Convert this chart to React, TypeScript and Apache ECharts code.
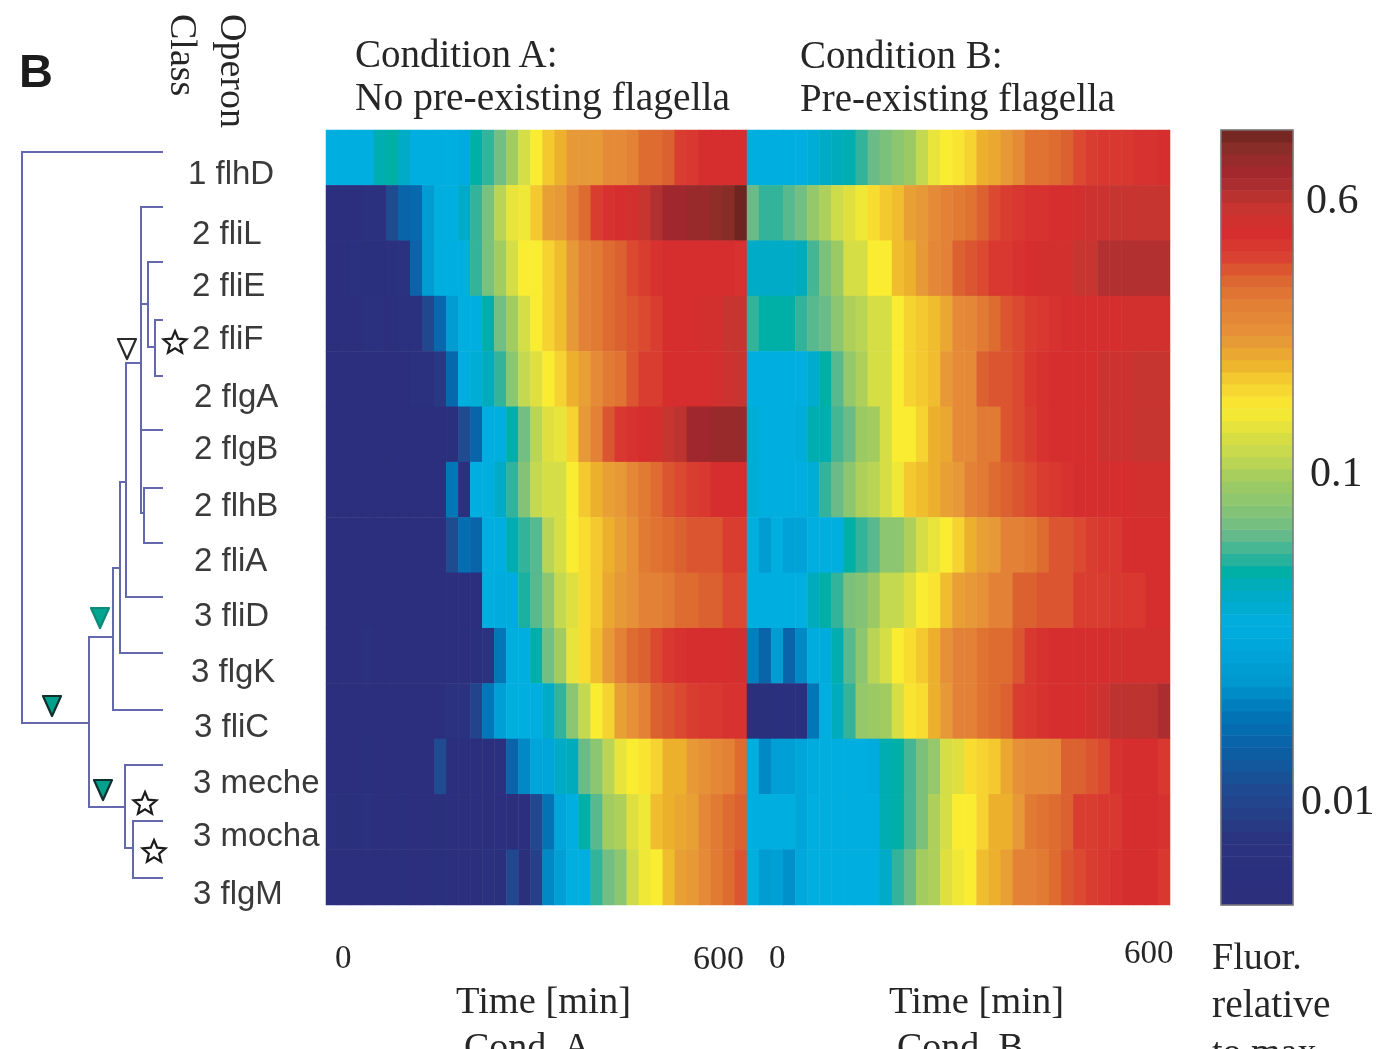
import React, { useEffect, useRef } from "react";
import * as echarts from "echarts";

const genes = ["flhD", "fliL", "fliE", "fliF", "flgA", "flgB", "flhB", "fliA", "fliD", "flgK", "fliC", "meche", "mocha", "flgM"];
const geneClass = [1, 2, 2, 2, 2, 2, 2, 2, 3, 3, 3, 3, 3, 3];
const timeColumns = ["0","18","35","53","71","88","106","124","141","159","176","194","212","229","247","265","282","300","318","335","353","371","388","406","424","441","459","476","494","512","529","547","565","582","600"];

// Values: relative position on the fluorescence colour scale (0 bottom, 100 top)
const condA_flhD = [36,36,36,36,42,43,40,36,36,36,36,35,43,45,49,55,60,64,68,70,73,73,73,75,75,77,80,80,81,84,85,87,87,87,87];
const condA_fliL = [2,2,2,5,5,15,21,22,30,36,36,40,45,50,57,62,63,68,72,73,77,80,84,86,87,88,90,92,95,95,96,96,97,98,100];
const condA_fliE = [2,2,5,4,4,5,8,21,30,36,36,36,45,50,55,60,64,64,67,69,73,77,78,80,81,83,84,86,87,87,87,87,87,87,86];
const condA_fliF = [2,2,2,5,5,2,5,6,14,22,30,36,36,43,49,55,60,64,67,69,73,77,78,80,81,82,83,84,87,87,87,88,88,90,90];
const condA_flgA = [2,2,2,2,2,2,2,5,5,10,22,36,38,41,45,52,58,61,64,67,70,72,75,78,79,82,84,84,87,87,87,87,88,89,90];
const condA_flgB = [2,2,2,2,2,2,2,2,2,2,4,15,21,36,36,43,49,57,61,62,67,73,77,82,85,86,87,88,90,91,95,95,96,96,96];
const condA_flhB = [2,2,2,2,2,2,2,2,2,2,25,5,36,36,40,45,51,58,60,60,64,68,70,72,73,76,78,80,82,83,84,85,87,87,87];
const condA_fliA = [2,2,2,2,2,2,2,2,2,2,15,23,21,36,36,42,45,47,57,60,64,66,68,70,72,74,78,79,80,81,82,82,82,84,84];
const condA_fliD = [2,2,2,2,2,2,2,2,2,2,2,2,2,36,35,35,44,47,52,58,61,66,68,71,73,74,77,77,78,80,80,81,81,83,83];
const condA_flgK = [2,2,2,5,2,2,2,2,2,2,2,2,4,8,25,36,36,43,49,55,62,66,69,73,77,80,81,83,85,86,87,87,87,87,88];
const condA_fliC = [2,2,2,2,2,2,2,2,2,2,8,8,13,25,31,36,36,36,40,45,52,58,64,67,72,74,77,81,82,83,84,85,85,86,86];
const condA_meche = [2,2,2,4,2,2,2,2,2,15,2,2,2,2,6,21,27,33,33,40,41,48,52,57,62,64,65,67,70,70,73,74,76,77,80];
const condA_mocha = [5,3,4,6,2,2,4,2,2,3,2,2,2,2,2,2,2,14,24,33,36,43,47,55,56,61,63,69,70,71,72,76,78,80,81];
const condA_flgM = [2,2,2,2,2,2,4,2,2,4,2,2,2,5,3,14,3,12,27,31,36,36,45,49,52,59,63,64,69,72,73,75,78,80,82];

const condB_flhD = [36,36,36,36,36,38,40,41,42,45,48,50,52,54,58,62,64,65,67,70,71,73,75,79,79,80,81,83,84,85,85,85,86,86,87];
const condB_fliL = [48,45,45,47,49,53,56,59,61,63,66,68,69,72,73,75,77,78,79,81,83,84,85,86,86,87,87,88,89,89,90,90,90,90,90];
const condB_fliE = [40,40,40,40,41,46,50,54,60,60,64,64,69,70,73,76,77,81,82,83,85,85,86,87,88,88,88,90,90,92,92,92,92,92,92];
const condB_fliF = [45,43,43,43,45,47,48,52,56,57,60,60,64,67,68,69,71,75,76,78,80,82,83,84,85,86,87,87,87,87,87,88,88,88,88];
const condB_flgA = [36,36,36,36,36,39,43,47,53,56,60,60,64,67,68,69,73,75,75,81,82,82,83,85,86,87,87,87,87,89,89,89,90,90,90];
const condB_flgB = [38,36,36,36,37,42,42,46,48,54,55,60,64,64,67,70,71,75,75,78,78,82,83,84,86,87,87,87,87,89,89,89,90,90,90];
const condB_flhB = [38,36,36,36,36,38,45,48,52,56,57,60,63,68,69,70,72,73,77,78,80,81,82,83,84,85,86,87,87,87,87,87,88,88,88];
const condB_fliA = [36,30,36,32,32,36,36,36,43,45,47,52,52,56,60,62,64,67,70,72,73,77,77,78,80,82,82,83,84,85,85,87,87,87,87];
const condB_fliD = [36,36,36,36,36,41,43,45,50,51,54,58,58,61,64,65,69,72,73,74,77,77,81,81,82,82,82,84,84,84,85,85,85,87,87];
const condB_flgK = [26,21,30,21,27,35,35,42,47,52,57,60,64,66,68,70,74,77,77,79,80,80,82,85,86,87,87,87,87,87,88,88,88,88,88];
const condB_fliC = [3,3,4,4,4,25,36,41,45,53,54,55,60,65,66,70,73,77,77,79,80,81,84,85,86,87,87,87,88,89,91,91,91,91,93];
const condB_meche = [36,27,31,31,33,35,36,36,36,36,35,42,43,46,50,53,60,61,66,67,68,71,74,75,75,76,81,81,82,83,86,87,87,87,85];
const condB_mocha = [36,36,36,36,33,36,36,36,36,36,36,42,43,46,50,56,60,64,64,67,70,70,73,78,79,80,81,84,84,85,85,87,87,87,86];
const condB_flgM = [36,30,31,28,34,36,36,36,36,36,36,40,45,48,55,56,61,63,64,69,70,72,77,77,78,80,82,83,84,85,86,87,87,87,85];

const condA = [condA_flhD, condA_fliL, condA_fliE, condA_fliF, condA_flgA, condA_flgB, condA_flhB, condA_fliA, condA_fliD, condA_flgK, condA_fliC, condA_meche, condA_mocha, condA_flgM];
const condB = [condB_flhD, condB_fliL, condB_fliE, condB_fliF, condB_flgA, condB_flgB, condB_flhB, condB_fliA, condB_fliD, condB_flgK, condB_fliC, condB_meche, condB_mocha, condB_flgM];

// Colour scale
const rampPositions = [0, 8, 15, 20, 25, 29, 36, 40, 43, 45, 48, 52, 55, 58, 61, 64, 66, 68, 70, 72, 74, 77, 80, 82, 84, 87, 90, 92, 95, 97.5, 100];
const rampColors = ["#2b2e7c","#2b327f","#1f4b91","#0b5fa5","#0078b8","#0099d0","#00aee0","#00abc8","#00afa5","#33b39a","#6abb88","#8cc670","#a3cc60","#c5d950","#dfe040","#f9ec31","#f8dc30","#f4c930","#ecb02c","#e8a035","#e69038","#e38236","#de6c30","#da5530","#d93d30","#d62d2f","#c73530","#b23030","#a0272d","#8b2f28","#6e2420"];
const rampSteps = 64;

const barTickPositions = [5.9, 15.6, 25.3, 35.1, 44.9, 54.7, 64.6, 74.3, 83.9, 93.4];
const barLabels = ["0.6", "0.1", "0.01"];

const hex = (c: string) => [1, 3, 5].map((i) => parseInt(c.slice(i, i + 2), 16));
function rampAt(v: number) {
  let i = 0;
  while (i < rampPositions.length - 2 && v > rampPositions[i + 1]) i++;
  const t = Math.min(1, Math.max(0, (v - rampPositions[i]) / (rampPositions[i + 1] - rampPositions[i])));
  const a = hex(rampColors[i]);
  const b = hex(rampColors[i + 1]);
  return `rgb(${a.map((x, k) => Math.round(x + (b[k] - x) * t)).join(",")})`;
}
const colorTable: string[] = [];
for (let i = 0; i <= 100; i++) colorTable.push(rampAt(i));

const barLevels: number[] = [];
for (let i = 0; i < rampSteps; i++) barLevels.push(((i + 0.5) / rampSteps) * 100);

const SERIF = "'Liberation Serif', serif";
const SANS = "'Liberation Sans', sans-serif";
const INK = "#262626";

const serifTexts: [string, number, number, number][] = [
  ["Condition A:", 355, 34, 39],
  ["No pre-existing flagella", 355, 77, 39.5],
  ["Condition B:", 800, 35, 39],
  ["Pre-existing flagella", 800, 78, 39],
  ["0", 335, 940, 33],
  ["600", 693, 940, 34],
  ["0", 769, 940, 33],
  ["600", 1124, 935, 33],
  ["Time [min]", 456, 980, 38.5],
  ["Cond. A", 464, 1027, 38],
  ["Time [min]", 889, 980, 38.5],
  ["Cond. B", 897, 1027, 38],
  ["Fluor.", 1212, 937, 38],
  ["relative", 1212, 984, 39.5],
  ["to max", 1212, 1032, 38],
];
const barLabelSpots: [number, number][] = [[1306, 178], [1310, 451], [1301, 779]];
const geneX = [188, 192, 192, 192, 194, 194, 194, 194, 194, 191, 194, 193, 193, 193];
const geneY = [156, 216, 268, 321, 379, 431, 488, 543, 598, 654, 709, 765, 818, 876];

const dendrogram: number[][][] = [
  [[163, 152], [22, 152], [22, 723], [89, 723]],
  [[113, 637], [89, 637], [89, 807], [125, 807]],
  [[120, 568], [113, 568], [113, 710], [163, 710]],
  [[126, 482], [120, 482], [120, 653], [163, 653]],
  [[141, 363], [126, 363], [126, 597], [163, 597]],
  [[163, 207], [141, 207], [141, 513], [144, 513]],
  [[141, 304], [148, 304]],
  [[163, 262], [148, 262], [148, 347], [155, 347]],
  [[163, 320], [155, 320], [155, 376], [163, 376]],
  [[141, 430], [163, 430]],
  [[163, 488], [144, 488], [144, 543], [163, 543]],
  [[163, 765], [125, 765], [125, 848], [133, 848]],
  [[163, 821], [133, 821], [133, 878], [163, 878]],
];
const triangles: [number, number, string, string][] = [
  [127, 349, "#ffffff", "#2a2a2a"],
  [100, 618, "#00a58f", "#0f8a78"],
  [52, 706, "#00a08c", "#10302e"],
  [103, 790, "#00a08c", "#10302e"],
];
const stars: [number, number][] = [[175, 343], [145, 804], [154, 852]];

function starPoints(cx: number, cy: number, R: number) {
  const pts: number[][] = [];
  for (let i = 0; i < 10; i++) {
    const r = i % 2 === 0 ? R : R * 0.45;
    const a = -Math.PI / 2 + (i * Math.PI) / 5;
    pts.push([cx + r * Math.cos(a), cy + r * Math.sin(a)]);
  }
  return pts;
}

function cells(rows: number[][]) {
  const out: number[][] = [];
  rows.forEach((row, y) => row.forEach((v, x) => out.push([x, y, v])));
  return out;
}

function buildGraphics() {
  const els: any[] = [];
  const text = (t: string, x: number, y: number, size: number, font: string, extra: any = {}) =>
    els.push({
      type: "text",
      x,
      y,
      z: 10,
      ...extra,
      style: { text: t, fontFamily: font, fontSize: size, fill: INK, textBaseline: "middle", textAlign: "left", ...(extra.style || {}) },
    });
  text("B", 19, 47, 47, SANS, { style: { fontWeight: "bold", fill: "#1c1c1c" } });
  text("Class", 203, 14, 38, SERIF, { rotation: -Math.PI / 2 });
  text("Operon", 253, 14, 38, SERIF, { rotation: -Math.PI / 2 });
  serifTexts.forEach(([t, x, y, s]) => text(t, x, y, s, SERIF));
  barLabels.forEach((t, i) => text(t, barLabelSpots[i][0], barLabelSpots[i][1], 42, SERIF));
  genes.forEach((g, i) => text(`${geneClass[i]} ${g}`, geneX[i], geneY[i], 33, SANS, { style: { fill: "#3a3a3a" } }));
  dendrogram.forEach((points) =>
    els.push({
      type: "polyline",
      z: 5,
      shape: { points },
      style: { stroke: "#6468ad", lineWidth: 2, fill: "none", lineJoin: "miter" },
    }),
  );
  triangles.forEach(([cx, cy, fill, stroke]) =>
    els.push({
      type: "polygon",
      z: 6,
      shape: { points: [[cx - 9, cy - 10], [cx + 9, cy - 10], [cx, cy + 10]] },
      style: { fill, stroke, lineWidth: 2.2, lineJoin: "round" },
    }),
  );
  stars.forEach(([cx, cy]) =>
    els.push({
      type: "polygon",
      z: 6,
      shape: { points: starPoints(cx, cy, 12) },
      style: { fill: "#ffffff", stroke: "#1c1c1c", lineWidth: 2.2 },
    }),
  );
  els.push({
    type: "rect",
    z: 8,
    shape: { x: 1221, y: 130, width: 72, height: 775 },
    style: { fill: "none", stroke: "#7a7a7a", lineWidth: 1.5 },
  });
  return els;
}

const hiddenCat = (gridIndex: number, data: any[], extra: any = {}) => ({
  type: "category",
  gridIndex,
  data,
  axisLine: { show: false },
  axisTick: { show: false },
  axisLabel: { show: false },
  splitLine: { show: false },
  ...extra,
});

export default function App() {
  const ref = useRef<HTMLDivElement>(null);
  useEffect(() => {
    const chart = echarts.init(ref.current!, null, { renderer: "svg" });
    const heat = (xAxisIndex: number, yAxisIndex: number, data: number[][], name: string) => ({
      type: "heatmap",
      name,
      xAxisIndex,
      yAxisIndex,
      data,
      progressive: 0,
      itemStyle: { borderWidth: 0 },
      emphasis: { disabled: true },
    });
    const tickAxis = (position: string) => ({
      type: "value",
      gridIndex: 2,
      position,
      min: 0,
      max: 100,
      axisLine: { show: false },
      axisLabel: { show: false },
      splitLine: { show: false },
      axisTick: {
        show: true,
        inside: true,
        length: 8,
        customValues: barTickPositions,
        lineStyle: { color: "#222", width: 1.5 },
      },
    });
    chart.setOption({
      animation: false,
      backgroundColor: "#ffffff",
      tooltip: { show: false },
      grid: [
        { left: 326, top: 130, width: 421, height: 775 },
        { left: 747, top: 130, width: 423, height: 775 },
        { left: 1221, top: 130, width: 72, height: 775 },
      ],
      xAxis: [hiddenCat(0, timeColumns), hiddenCat(1, timeColumns), hiddenCat(2, ["Fluor."])],
      yAxis: [
        hiddenCat(0, genes, { inverse: true }),
        hiddenCat(1, genes, { inverse: true }),
        hiddenCat(2, barLevels.map((l) => l.toFixed(2))),
        tickAxis("left"),
        tickAxis("right"),
      ],
      visualMap: {
        show: false,
        type: "continuous",
        min: 0,
        max: 100,
        dimension: 2,
        seriesIndex: [0, 1, 2],
        inRange: { color: colorTable },
      },
      series: [
        heat(0, 0, cells(condA), "Condition A"),
        heat(1, 1, cells(condB), "Condition B"),
        heat(2, 2, barLevels.map((l, i) => [0, i, l]), "Colour bar"),
      ],
      graphic: { elements: buildGraphics() },
    });
    return () => chart.dispose();
  }, []);
  return (
    <div
      ref={ref}
      style={{ position: "absolute", left: 0, top: 0, width: 1384, height: 1049, background: "#fff", filter: "blur(0.6px)" }}
    />
  );
}
